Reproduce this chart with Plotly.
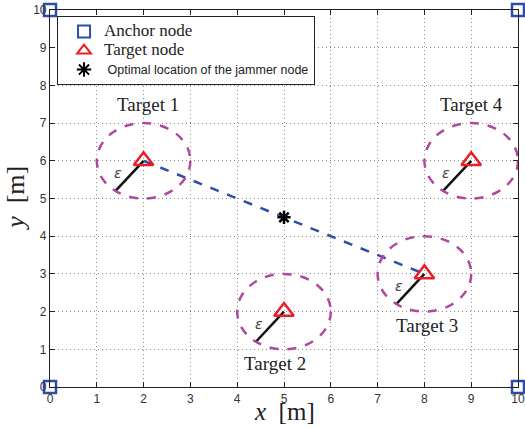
import plotly.graph_objects as go

# Data
anchor_x = [0, 0, 10, 10]
anchor_y = [0, 10, 0, 10]
target_x = [2, 5, 8, 9]
target_y = [6, 2, 3, 6]
target_names = ["Target 1", "Target 2", "Target 3", "Target 4"]
label_x = [2.1, 4.8, 8.05, 9.0]
label_y = [7.5, 0.62, 1.62, 7.5]
radius = 1.0
eps_dx = -0.6
eps_dy = -0.8
jammer_x = [5]
jammer_y = [4.5]
link_x = [2, 8]
link_y = [6, 3]
ticks = list(range(0, 11))

CIRC = "#B2479E"
BLUE = "#2E4DA7"
RED = "#EE1C24"

fig = go.Figure()

for cx, cy in zip(target_x, target_y):
    fig.add_shape(type="circle", xref="x", yref="y",
                  x0=cx - radius, x1=cx + radius, y0=cy - radius, y1=cy + radius,
                  line=dict(color=CIRC, width=2.5, dash="dash"), layer="above")

for cx, cy in zip(target_x, target_y):
    fig.add_trace(go.Scatter(x=[cx, cx + eps_dx], y=[cy, cy + eps_dy], mode="lines",
                             line=dict(color="#111111", width=2.5), showlegend=False,
                             hoverinfo="skip"))
    fig.add_annotation(x=cx + eps_dx * 0.9, y=cy + eps_dy * 0.4, text="<i>ε</i>",
                       showarrow=False, xanchor="center", yanchor="middle",
                       font=dict(family="DejaVu Sans", size=14, color="#444444"))

fig.add_trace(go.Scatter(x=link_x, y=link_y, mode="lines",
                         line=dict(color=BLUE, width=2.5, dash="dash"),
                         showlegend=False, hoverinfo="skip"))

fig.add_trace(go.Scatter(x=anchor_x, y=anchor_y, mode="markers",
                         name="<span style='font-family:Liberation Serif;font-size:17px'>Anchor node</span>",
                         marker=dict(symbol="square-open", size=12, color=BLUE,
                                     line=dict(width=2.5, color=BLUE)),
                         cliponaxis=False))
fig.add_trace(go.Scatter(x=target_x, y=target_y, mode="markers",
                         name="<span style='font-family:Liberation Serif;font-size:17px'>Target node</span>",
                         marker=dict(symbol="triangle-up-open", size=17, color=RED,
                                     line=dict(width=2.5, color=RED)),
                         cliponaxis=False))
fig.add_trace(go.Scatter(x=jammer_x, y=jammer_y, mode="markers",
                         name="<span style='font-size:12.5px'> Optimal location of the jammer node</span>",
                         marker=dict(symbol="asterisk-open", size=11, color="black",
                                     line=dict(width=2.5, color="black"))))

for tx, ty, tn in zip(label_x, label_y, target_names):
    fig.add_annotation(x=tx, y=ty, text=tn, showarrow=False,
                       font=dict(family="Liberation Serif", size=19, color="#222222"))

# axis titles
fig.add_annotation(xref="paper", yref="paper", x=0.5, y=-0.066, text="<i>x</i>  [m]",
                   showarrow=False, xanchor="center", yanchor="middle",
                   font=dict(family="Liberation Serif", size=25, color="#222222"))
fig.add_annotation(xref="paper", yref="paper", x=-0.074, y=0.5, text="<i>y</i>  [m]",
                   showarrow=False, xanchor="center", yanchor="middle", textangle=-90,
                   font=dict(family="Liberation Serif", size=26, color="#222222"))

axis_common = dict(
    range=[0, 10], tickvals=ticks, ticks="inside", ticklen=5, tickcolor="#222222",
    showline=True, linecolor="#222222", linewidth=1.2, mirror="ticks",
    showgrid=True, gridcolor="#8a8a8a", griddash="1px,3px", gridwidth=1,
    zeroline=False, automargin=False,
    tickfont=dict(family="Arial, Liberation Sans", size=12, color="#333333"),
)

fig.update_xaxes(**axis_common)
fig.update_yaxes(**axis_common)

fig.update_layout(
    width=525, height=427,
    margin=dict(l=50, r=7, t=10, b=40),
    plot_bgcolor="white", paper_bgcolor="white",
    legend=dict(x=0.015, y=0.984, xanchor="left", yanchor="top",
                bgcolor="white", bordercolor="#222222", borderwidth=1,
                font=dict(family="Arial, Liberation Sans", size=12, color="#222222"),
                tracegroupgap=0, itemsizing="constant", indentation=6, itemwidth=30),
)

fig.write_html("out.html", config={"displayModeBar": False},
               post_script="document.body.style.margin='0px';")
